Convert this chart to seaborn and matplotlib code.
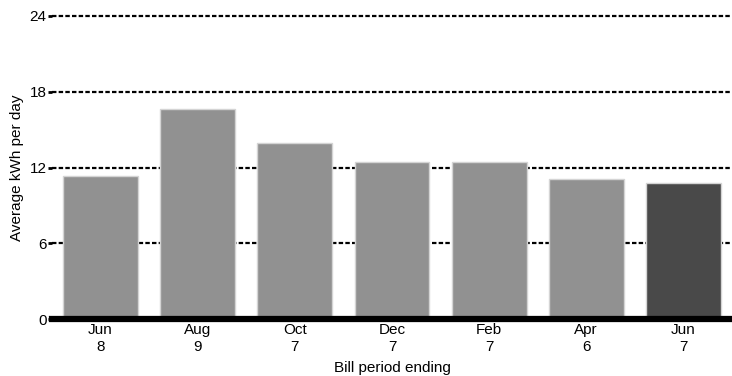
import matplotlib
matplotlib.use('Agg')
import matplotlib.pyplot as plt
import seaborn as sns
import pandas as pd

periods = ['Jun\n8', 'Aug\n9', 'Oct\n7', 'Dec\n7', 'Feb\n7', 'Apr\n6', 'Jun\n7']
kwh_per_day = [11.3, 16.6, 13.9, 12.4, 12.4, 11.1, 10.8]
bar_colors = ['#919191'] * 6 + ['#494949']
y_ticks = [0, 6, 12, 18, 24]

df = pd.DataFrame({'period': periods, 'kwh': kwh_per_day})

sns.set_theme(style='white')
plt.rcParams['font.family'] = ['Liberation Sans', 'DejaVu Sans']
plt.rcParams['text.color'] = 'black'
plt.rcParams['axes.labelcolor'] = 'black'
plt.rcParams['xtick.color'] = 'black'
plt.rcParams['ytick.color'] = 'black'

fig = plt.figure(figsize=(7.32, 3.76), dpi=100)
ax = fig.add_axes([0.071, 0.151, 0.929, 0.807])

sns.barplot(data=df, x='period', y='kwh', hue='period', palette=bar_colors,
            legend=False, width=0.77, edgecolor='#d4d4d4', linewidth=1,
            saturation=1, ax=ax, zorder=3)

# dashed reference lines behind the bars
for t in y_ticks[1:]:
    ax.axhline(t, color='black', linestyle=(0, (2, 1)), linewidth=1.6,
               zorder=1, clip_on=False)

ax.set_xlim(-0.5, 6.5)
ax.set_ylim(0, 24)
ax.set_yticks(y_ticks)
ax.tick_params(axis='y', length=3, width=2, color='black', pad=1, labelsize=11,
               left=True, labelcolor='black')
ax.tick_params(axis='x', length=0, pad=3, labelsize=11, labelcolor='black')

for s in ['top', 'right', 'left']:
    ax.spines[s].set_visible(False)
ax.spines['bottom'].set_linewidth(4.5)
ax.spines['bottom'].set_color('black')
ax.spines['bottom'].set_zorder(5)

ax.set_xlabel('Bill period ending', fontsize=11, labelpad=5, color='black')
ax.set_ylabel('Average kWh per day', fontsize=11, labelpad=4, color='black')

fig.savefig('out.png', dpi=100)
